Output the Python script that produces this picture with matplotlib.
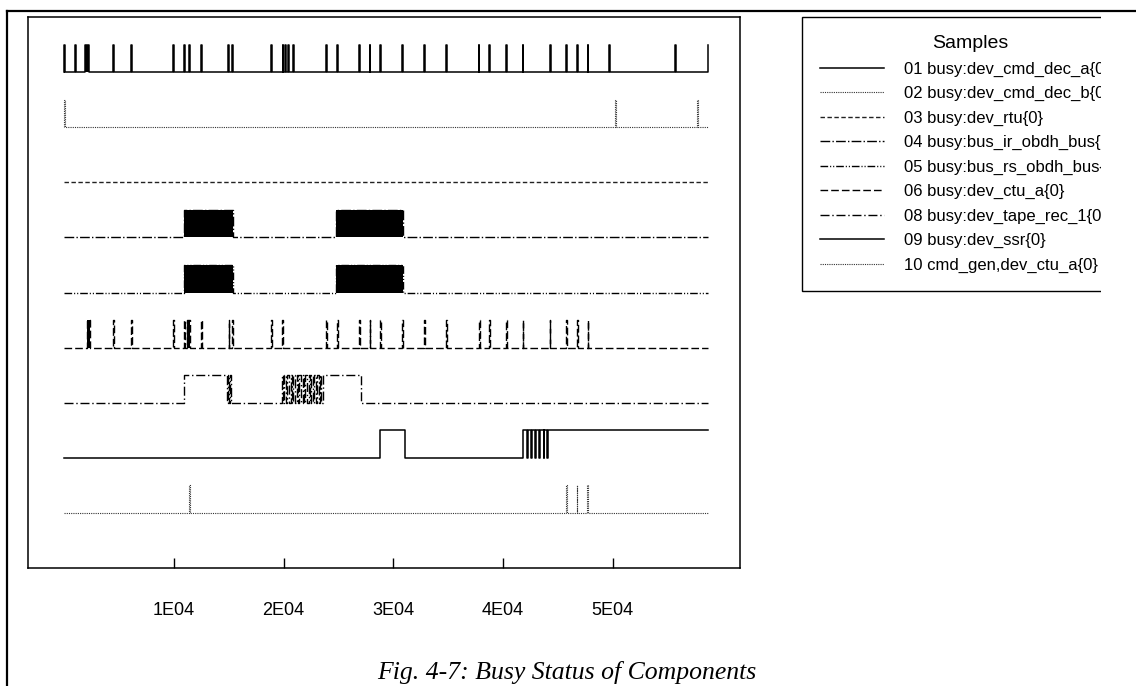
import matplotlib
matplotlib.use('Agg')
import matplotlib.pyplot as plt
from matplotlib.lines import Line2D
from matplotlib.patches import Rectangle

plt.rcParams['font.family'] = ['Liberation Sans', 'DejaVu Sans']

t_end = 58700
pulse_w = 60   # width of a single short busy pulse
height = 0.5   # busy level above each baseline

labels = ['01 busy:dev_cmd_dec_a{0}', '02 busy:dev_cmd_dec_b{0}', '03 busy:dev_rtu{0}',
          '04 busy:bus_ir_obdh_bus{0}', '05 busy:bus_rs_obdh_bus{0}', '06 busy:dev_ctu_a{0}',
          '08 busy:dev_tape_rec_1{0}', '09 busy:dev_ssr{0}', '10 cmd_gen,dev_ctu_a{0}']

# short pulses (start times) and dense busy spans per sample
pulses_01 = [0, 1000, 4440, 6080, 9910, 10940, 11370, 12490, 14950, 15340, 18870, 19900,
             20150, 20390, 20850, 23880, 24860, 26860, 27830, 28810, 30780, 32790, 34790,
             37770, 38740, 40260, 41780, 44270, 45730, 46740, 47700, 49680, 55670, 58640]
dense_01 = [(1900, 2300)]

pulses_02 = [0, 50230, 57680]

pulses_03 = []

dense_04 = [(10940, 15430), (24800, 30870)]
dense_05 = [(10940, 15430), (24800, 30870)]

pulses_06 = [4440, 6080, 9960, 10940, 12490, 14980, 15290, 18840, 19850, 23880, 24860,
             26860, 27830, 28810, 30780, 32790, 34790, 37830, 38740, 40260, 41780, 44240,
             45730, 46740, 47700]
dense_06 = [(2070, 2370), (11180, 11490)]

busy_08 = [(10940, 14830), (14950, 15010), (15100, 15190), (19850, 19950), (20080, 20200),
           (20330, 20520), (20650, 20750), (20880, 21060), (21190, 21290), (21420, 21600),
           (21730, 21830), (21960, 22140), (22270, 22370), (22500, 22680), (22810, 22910),
           (23040, 23220), (23350, 23450), (23580, 27050)]

busy_09 = [(28810, 31020), (41810, 42180), (42240, 42540), (42600, 42940), (43000, 43300),
           (43360, 43700), (43760, 44010), (44070, 58700)]

pulses_10 = [11390, 45760, 46720, 47680]

xticks = [10000, 20000, 30000, 40000, 50000]
xtick_labels = ['1E04', '2E04', '3E04', '4E04', '5E04']


def as_spans(pulses):
    return [(p, p + pulse_w) for p in pulses]


def trace(ax, base, busy, dense=(), **kw):
    busy = sorted(list(busy) + list(dense))
    xs, ys = [0], [base]
    top = base + height
    ended_high = False
    for a, b in busy:
        if b >= t_end:
            xs += [a, a, t_end]
            ys += [base, top, top]
            ended_high = True
        else:
            xs += [a, a, b, b]
            ys += [base, top, top, base]
    if not ended_high:
        xs.append(t_end)
        ys.append(base)
    ln, = ax.plot(xs, ys, **kw)
    for a, b in dense:
        ax.fill_between([a, b], base, top, color='black', lw=0)
    return ln


fig = plt.figure(figsize=(11.36, 6.86), dpi=100)
ax = fig.add_axes([28 / 1136, (686 - 568) / 686, 712 / 1136, 551 / 686])

dot = dict(color='#333333', lw=0.8, linestyle=(0, (1, 1)))
h = []
h.append(trace(ax, 9, as_spans(pulses_01), dense_01, color='black', lw=1.1))
h.append(trace(ax, 8, as_spans(pulses_02), **dot))
h.append(trace(ax, 7, as_spans(pulses_03), color='#222222', lw=1.0, linestyle=(0, (3.2, 1.8))))
h.append(trace(ax, 6, [], dense_04, color='black', lw=1.0, linestyle=(0, (7, 1.6, 1, 1.6))))
h.append(trace(ax, 5, [], dense_05, color='black', lw=1.0,
               linestyle=(0, (5.5, 1.4, 0.8, 1.4, 0.8, 1.4))))
h.append(trace(ax, 4, as_spans(pulses_06), dense_06, color='black', lw=1.0,
               linestyle=(0, (5.5, 2.2))))
h.append(trace(ax, 3, busy_08, color='black', lw=1.0, linestyle=(0, (6.5, 2, 1, 2))))
h.append(trace(ax, 2, busy_09, color='black', lw=1.1))
h.append(trace(ax, 1, as_spans(pulses_10), **dot))

ax.set_xlim(-3300, 61600)
ax.set_ylim(0, 10)
ax.set_yticks([])
ax.set_xticks(xticks)
ax.set_xticklabels(xtick_labels)
ax.tick_params(axis='x', direction='in', length=7.5, width=1, pad=24.5, labelsize=13)
for s in ax.spines.values():
    s.set_linewidth(1.1)

leg = fig.legend(h, labels, loc='upper left', bbox_to_anchor=(802 / 1136, 1 - 17 / 686),
                 bbox_transform=fig.transFigure, title='Samples', fontsize=12,
                 title_fontsize=14, fancybox=False, edgecolor='black', framealpha=1,
                 handlelength=3.8, handletextpad=1.2, labelspacing=0.56, borderpad=1.1,
                 borderaxespad=0)
leg.get_frame().set_linewidth(1.0)

# the legend is cut off at the right edge of the scan
fig.add_artist(Rectangle((1101 / 1136, (686 - 305) / 686), 0.1, 291 / 686,
                         transform=fig.transFigure, facecolor='white', edgecolor='none',
                         zorder=10))

# page border lines
fig.add_artist(Line2D([7 / 1136, 1], [1 - 11 / 686] * 2, transform=fig.transFigure,
                      color='black', lw=1.6, zorder=11))
fig.add_artist(Line2D([7 / 1136] * 2, [0, 1 - 11 / 686], transform=fig.transFigure,
                      color='black', lw=1.6, zorder=11))

fig.text(567 / 1136, 1 - 672 / 686, 'Fig. 4-7: Busy Status of Components', ha='center',
         va='center', fontsize=18.5, style='italic', family=['Liberation Serif', 'DejaVu Serif'])

fig.savefig('out.png', dpi=100)
